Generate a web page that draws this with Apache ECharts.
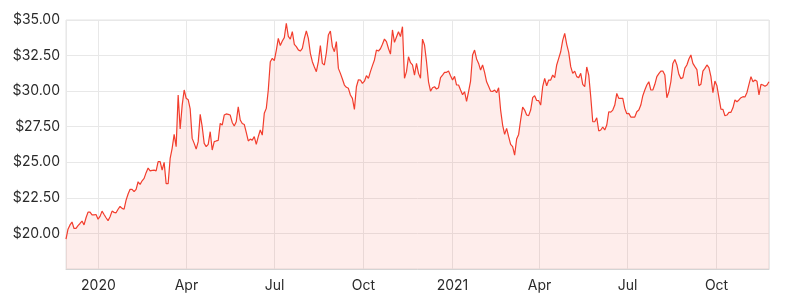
<!DOCTYPE html>
<html><head><meta charset="utf-8">
<script src="https://cdn.jsdelivr.net/npm/echarts@6/dist/echarts.min.js"></script>
<style>html,body{margin:0;padding:0;background:#fff}#c{width:788px;height:302px}</style>
</head><body><div id="c"></div>
<script>
// Evenly sampled closing prices, 28 Nov 2019 -> 24 Nov 2021
const startDate = new Date(2019, 10, 28, 12, 0, 0);
const endDate = new Date(2021, 10, 24, 5, 0, 0);

const seg1 = [19.6,20.3,20.6,20.8,20.35,20.35,20.55,20.7,20.87,20.6,21.1,21.5,21.5,21.3,21.3,21.33,21.0,21.2,21.57,21.33,21.1,20.9,21.17,21.57,21.48,21.45,21.7,21.9,21.76,21.7,22.34,22.77,23.1,23.1,22.93,23.1,23.63,23.45,23.7,23.87,24.27,24.6,24.4,24.43,24.45,24.4,25.04,25.04,24.45,25.0,23.5,23.5,25.27,25.98,26.96,26.1,29.73,27.34,29.0];
const seg2 = [30.08,29.5,29.4,28.75,26.68,26.33,25.93,26.45,28.37,27.5,26.33,26.1,26.26,27.15,25.86,26.45,26.5,26.54,27.73,27.62,28.32,28.4,28.37,28.32,27.8,27.55,27.85,28.9,27.97,27.73,27.66,27.1,26.5,26.63,26.56,26.8,26.26,26.8,27.27,26.91,28.44,28.79,30.08,32.07,32.3,32.15,32.87,33.71,33.2,33.52,33.76,34.77,33.85,33.66,34.18,33.29,33.13,32.9,32.82];
const seg3 = [33.01,33.71,34.23,33.71,32.66,32.07,31.7,31.37,32.07,33.2,31.95,31.84,32.7,33.95,34.23,33.13,32.77,33.48,31.6,31.25,30.85,30.43,30.27,30.2,29.73,29.49,28.72,30.31,30.8,30.78,30.55,30.7,31.09,30.9,31.37,31.79,32.19,32.89,32.82,32.98,33.29,33.66,33.48,33.0,32.6,34.3,33.43,33.8,34.18,33.83,34.53,30.9,31.37,32.42,32.0,31.84,31.13,31.95,31.25];
const seg4 = [30.9,33.66,33.24,32.07,30.66,30.0,30.24,30.31,30.15,30.24,30.95,31.13,31.32,31.32,31.41,31.09,30.78,31.04,30.43,30.43,30.08,29.75,29.96,29.28,29.96,30.71,32.54,32.89,32.26,31.95,31.48,31.84,31.32,30.66,30.34,30.0,29.98,30.08,29.89,30.24,28.67,27.62,26.96,27.38,26.8,26.26,26.1,25.5,26.63,26.96,27.97,28.88,28.67,28.32,28.28,28.67,29.54,29.68,29.35];
const seg5 = [29.33,29.02,30.31,30.9,30.38,30.78,30.78,31.13,30.95,31.84,32.3,32.77,33.57,34.06,33.29,32.73,31.72,31.25,31.41,31.02,30.95,31.25,30.48,30.31,31.7,31.13,29.61,27.85,27.85,28.13,27.2,27.27,27.48,27.27,27.62,28.55,28.53,28.67,29.02,29.84,29.49,29.49,29.49,28.79,28.41,28.44,28.18,28.18,28.18,28.55,28.67,29.02,29.68,30.08,30.43,30.66,30.08,30.08,30.48];
const seg6 = [31.02,31.23,31.41,31.41,31.13,29.54,29.96,30.66,31.95,32.23,31.84,31.18,30.88,30.95,31.62,31.84,32.26,32.54,31.95,31.72,31.51,30.38,30.48,31.41,31.6,31.84,31.65,31.02,29.89,30.71,30.38,29.54,28.74,28.72,28.27,28.32,28.51,28.51,28.83,29.38,29.26,29.38,29.54,29.61,29.59,29.91,30.48,31.02,30.66,30.78,30.69,29.73,30.48,30.43,30.34,30.43,30.66];

const yMin = 17.5, yMax = 35, yStep = 2.5;
const monthNames = ['Jan','Feb','Mar','Apr','May','Jun','Jul','Aug','Sep','Oct','Nov','Dec'];

const prices = [].concat(seg1, seg2, seg3, seg4, seg5, seg6);
const t0 = startDate.getTime(), t1 = endDate.getTime();
const stepMs = (t1 - t0) / (prices.length - 1);
const data = prices.map((v, i) => [t0 + i * stepMs, v]);

const chart = echarts.init(document.getElementById('c'), null, {renderer: 'canvas'});
chart.setOption({
  animation: false,
  backgroundColor: '#ffffff',
  textStyle: {fontFamily: 'Inter'},
  grid: {left: 66, right: 19, top: 20, bottom: 33, show: true, borderColor: '#e4e4e4', borderWidth: 1},
  xAxis: {
    type: 'time',
    min: t0, max: t1,
    splitNumber: 8,
    axisLine: {show: true, lineStyle: {color: '#d4d4d4', width: 1}},
    axisTick: {show: false},
    splitLine: {show: true, lineStyle: {color: '#e8e8e8', width: 1}},
    axisLabel: {
      color: '#2b2b2b', fontSize: 14, fontFamily: 'Inter', margin: 10,
      formatter: function (v) {
        const d = new Date(v);
        if (d.getDate() !== 1 || d.getHours() !== 0) return '';
        const m = d.getMonth();
        return m === 0 ? String(d.getFullYear()) : monthNames[m];
      }
    }
  },
  yAxis: {
    type: 'value',
    min: yMin, max: yMax, interval: yStep,
    axisLine: {show: false},
    axisTick: {show: false},
    splitLine: {show: true, lineStyle: {color: '#e8e8e8', width: 1}},
    axisLabel: {
      color: '#2b2b2b', fontSize: 14, fontFamily: 'Inter', margin: 6,
      formatter: function (v) { return v <= yMin ? '' : '$' + v.toFixed(2); }
    }
  },
  series: [{
    type: 'line',
    data: data,
    showSymbol: false,
    symbol: 'none',
    lineStyle: {color: '#f23d2d', width: 1.2},
    areaStyle: {color: 'rgba(242,61,45,0.135)', origin: 'start'}
  }]
});
</script>
</body></html>
